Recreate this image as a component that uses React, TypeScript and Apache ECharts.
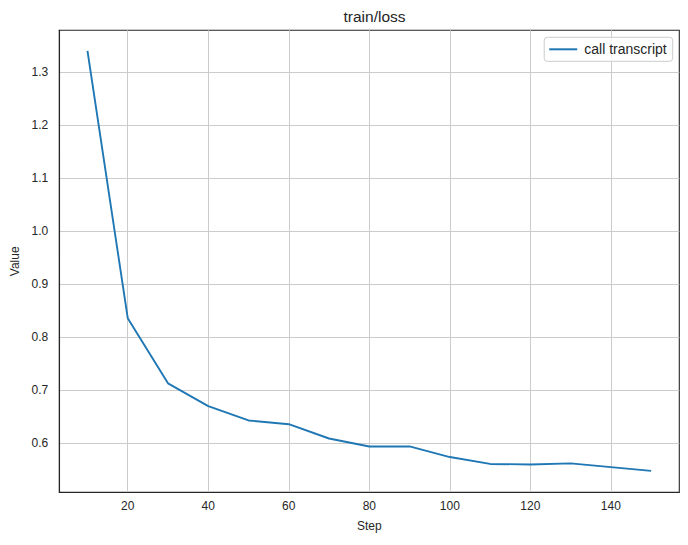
import React, { useEffect, useRef } from "react";
import * as echarts from "echarts";

const steps = [10, 20, 30, 40, 50, 60, 70, 80, 90, 100, 110, 120, 130, 140, 150];
const lossValues = [1.340, 0.836, 0.713, 0.670, 0.643, 0.636, 0.609, 0.594, 0.594, 0.574, 0.561, 0.560, 0.562, 0.555, 0.548];
const seriesName = "call transcript";
const titleText = "train/loss";
const xName = "Step";
const yName = "Value";

const FONT = "'Liberation Sans', Arial, Helvetica, sans-serif";
const TEXT = "#262626";

export default function App() {
  const ref = useRef<HTMLDivElement>(null);
  useEffect(() => {
    if (!ref.current) return;
    const chart = echarts.init(ref.current, undefined, { renderer: "svg" });
    const data = steps.map((s, i) => [s, lossValues[i]]);
    chart.setOption({
      animation: false,
      backgroundColor: "#ffffff",
      textStyle: { fontFamily: FONT, color: TEXT },
      title: {
        text: titleText,
        left: 369.5,
        top: 3,
        textAlign: "center",
        textStyle: { fontFamily: FONT, fontSize: 15.5, fontWeight: "normal", color: TEXT },
      },
      grid: {
        left: 59.3,
        right: 8.7,
        top: 30.3,
        bottom: 52.7,
        show: true,
        borderColor: TEXT,
        borderWidth: 1.1,
        backgroundColor: "transparent",
      },
      legend: {
        data: [seriesName],
        right: 15.3,
        top: 37.3,
        icon: "rect",
        itemWidth: 28,
        itemHeight: 2,
        padding: [5, 6, 5, 5],
        backgroundColor: "rgba(255,255,255,0.8)",
        borderColor: "#cccccc",
        borderWidth: 1,
        borderRadius: 3,
        textStyle: { fontFamily: FONT, fontSize: 14, color: TEXT, padding: [0, 0, 0, 2] },
      },
      xAxis: {
        type: "value",
        min: 3,
        max: 157,
        minInterval: 20,
        maxInterval: 20,
        name: xName,
        nameLocation: "middle",
        nameGap: 28,
        nameTextStyle: { fontFamily: FONT, fontSize: 12, color: TEXT },
        axisLine: { show: true, lineStyle: { color: TEXT, width: 1.1 } },
        axisTick: { show: false },
        axisLabel: {
          showMinLabel: false,
          showMaxLabel: false,
          fontFamily: FONT,
          fontSize: 12,
          color: TEXT,
          margin: 8,
        },
        splitLine: {
          show: true,
          showMinLine: false,
          showMaxLine: false,
          lineStyle: { color: "#cccccc", width: 1 },
        },
      },
      yAxis: {
        type: "value",
        min: 0.5075,
        max: 1.379,
        minInterval: 0.1,
        maxInterval: 0.1,
        name: yName,
        nameLocation: "middle",
        nameGap: 37,
        nameRotate: 90,
        nameTextStyle: { fontFamily: FONT, fontSize: 12, color: TEXT },
        axisLine: { show: true, lineStyle: { color: TEXT, width: 1.1 } },
        axisTick: { show: false },
        axisLabel: {
          showMinLabel: false,
          showMaxLabel: false,
          fontFamily: FONT,
          fontSize: 12,
          color: TEXT,
          margin: 11,
          formatter: (v: number) => v.toFixed(1),
        },
        splitLine: {
          show: true,
          showMinLine: false,
          showMaxLine: false,
          lineStyle: { color: "#cccccc", width: 1 },
        },
      },
      series: [
        {
          name: seriesName,
          type: "line",
          data,
          symbol: "none",
          lineStyle: { color: "#1f77b4", width: 1.9 },
          itemStyle: { color: "#1f77b4" },
        },
      ],
    });
    return () => chart.dispose();
  }, []);
  return (
    <div
      ref={ref}
      style={{ position: "fixed", left: 0, top: 0, width: 688, height: 545 }}
    />
  );
}
